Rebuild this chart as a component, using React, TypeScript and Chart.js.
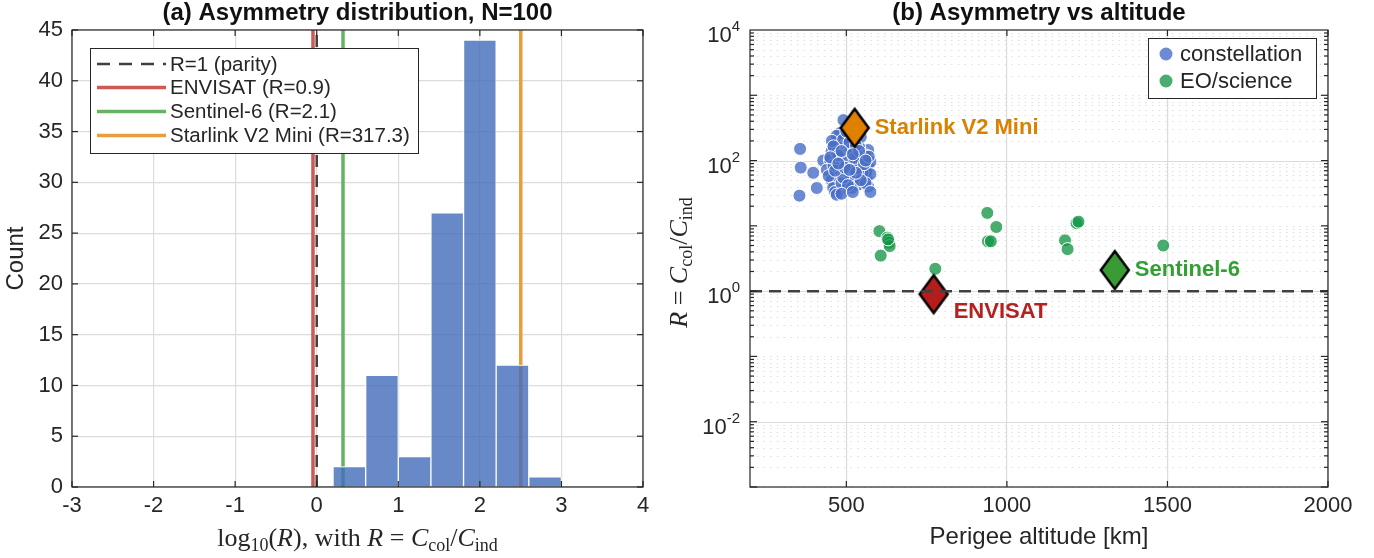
import React, { useEffect, useRef } from 'react';
import { Chart, registerables } from 'chart.js';
Chart.register(...registerables);

const SANS = '"Liberation Sans", Arial, Helvetica, sans-serif';
const SERIF = '"Liberation Serif", "Times New Roman", serif';
const INK = '#262626';

// ---------- Panel (a): histogram of log10(R) ----------
const binCenters = [0.4, 0.8, 1.2, 1.6, 2.0, 2.4, 2.8];
const binCounts = [2, 11, 3, 27, 44, 12, 1];
const refLabels = ['R=1 (parity)', 'ENVISAT (R=0.9)', 'Sentinel-6 (R=2.1)', 'Starlink V2 Mini (R=317.3)'];
const refRatios = [1, 0.9, 2.1, 317.3];
const xTicksA = [-3, -2, -1, 0, 1, 2, 3, 4];
const yTicksA = [0, 5, 10, 15, 20, 25, 30, 35, 40, 45];
const titleA = '(a) Asymmetry distribution, N=100';
const yLabelA = 'Count';

// ---------- Panel (b): asymmetry vs altitude ----------
const constAlt = [356, 358, 354, 397, 408, 428, 491, 480, 465, 454,
  480, 506, 532, 543, 568, 449, 475, 522, 543, 568,
  439, 470, 496, 532, 563, 454, 511, 568, 537, 459,
  480, 465, 485, 517, 501, 470, 553, 563, 501, 527,
  470, 455, 490, 515, 540, 560, 575, 550, 575, 560,
  575, 535, 520, 480, 460, 445, 490, 505, 470, 485,
  520, 545, 510, 545, 500, 530, 460, 475, 500, 525,
  555, 465, 495, 530, 570, 450, 485, 540, 510, 560,
  475, 520];
const constR = [151, 78, 29, 65, 38, 100, 417, 263, 184, 138,
  156, 174, 184, 138, 145, 102, 96, 102, 85, 79,
  72, 68, 72, 60, 56, 50, 51, 40, 43, 38,
  35, 33, 45, 38, 123, 130, 109, 68, 85, 75,
  240, 200, 210, 150, 160, 120, 95, 65, 62, 45,
  33, 120, 88, 110, 85, 58, 55, 42, 30, 31,
  33, 50, 190, 230, 280, 170, 165, 120, 95, 110,
  88, 70, 78, 65, 115, 112, 140, 140, 72, 100,
  90, 125];
const eoAlt = [603, 607, 628, 632, 635, 777, 939, 967, 941, 950, 1181, 1189, 1217, 1223, 1487, 630];
const eoR = [8.3, 3.5, 6.6, 5.5, 4.9, 2.2, 15.8, 9.6, 5.8, 5.8, 6.0, 4.4, 11, 11.6, 5.0, 6.2];
const hlNames = ['Starlink V2 Mini', 'ENVISAT', 'Sentinel-6'];
const hlAlt = [526, 772, 1336];
const hlR = [317.3, 0.9, 2.1];
const groupLabels = ['constellation', 'EO/science'];
const xTicksB = [500, 1000, 1500, 2000];
const yDecadesB = [-2, 0, 2, 4];
const titleB = '(b) Asymmetry vs altitude';
const xLabelB = 'Perigee altitude [km]';

// ---------- styles ----------
const refColors = ['rgb(64,64,64)', 'rgb(205,88,84)', 'rgb(100,180,100)', 'rgb(230,158,62)'];
const barFill = 'rgba(66,107,186,0.8)';
const constFill = 'rgba(72,110,200,0.8)';
const eoFill = 'rgba(20,150,70,0.78)';
const hlFill = ['#E08000', '#B51C1C', '#3A9B35'];
const hlText = ['#D98200', '#B52020', '#33A033'];
const hlOffset = [[20, 0], [20, 18], [20, 0]];
const gridColor = 'rgb(220,220,220)';

type Seg = { t: string; it?: boolean; sub?: boolean };

function drawMath(ctx: CanvasRenderingContext2D, segs: Seg[], cx: number, cy: number, size: number, rot: boolean) {
  ctx.save();
  ctx.translate(cx, cy);
  if (rot) ctx.rotate(-Math.PI / 2);
  const fontFor = (s: Seg) => `${s.it ? 'italic ' : ''}${s.sub ? Math.round(size * 0.7) : size}px ${SERIF}`;
  let w = 0;
  for (const s of segs) { ctx.font = fontFor(s); w += ctx.measureText(s.t).width; }
  let x = -w / 2;
  ctx.textAlign = 'left';
  ctx.textBaseline = 'alphabetic';
  ctx.fillStyle = INK;
  const base = size * 0.33;
  for (const s of segs) {
    ctx.font = fontFor(s);
    ctx.fillText(s.t, x, s.sub ? base + size * 0.2 : base);
    x += ctx.measureText(s.t).width;
  }
  ctx.restore();
}

function txt(ctx: CanvasRenderingContext2D, s: string, x: number, y: number, font: string, color: string,
  align: CanvasTextAlign = 'center', rot = false) {
  ctx.save();
  ctx.translate(x, y);
  if (rot) ctx.rotate(-Math.PI / 2);
  ctx.font = font;
  ctx.fillStyle = color;
  ctx.textAlign = align;
  ctx.textBaseline = 'middle';
  ctx.fillText(s, 0, 0);
  ctx.restore();
}

function diamond(fill: string) {
  const c = document.createElement('canvas');
  c.width = 34; c.height = 44;
  const g = c.getContext('2d')!;
  g.beginPath();
  g.moveTo(17, 3); g.lineTo(31, 22); g.lineTo(17, 41); g.lineTo(3, 22); g.closePath();
  g.fillStyle = fill; g.fill();
  g.lineWidth = 2.5; g.strokeStyle = '#000'; g.lineJoin = 'miter'; g.stroke();
  return c;
}

function line(ctx: CanvasRenderingContext2D, x1: number, y1: number, x2: number, y2: number) {
  ctx.beginPath(); ctx.moveTo(x1, y1); ctx.lineTo(x2, y2); ctx.stroke();
}

const tickFont = { family: SANS, size: 22 };

function configA(): any {
  const decor = {
    id: 'decorA',
    afterDraw(chart: any) {
      const { ctx, chartArea: ca, scales } = chart;
      const x = scales.x, y = scales.y;
      ctx.save();
      ctx.strokeStyle = INK; ctx.lineWidth = 1.2;
      ctx.strokeRect(ca.left, ca.top, ca.right - ca.left, ca.bottom - ca.top);
      for (const v of xTicksA) {
        const px = x.getPixelForValue(v);
        line(ctx, px, ca.bottom, px, ca.bottom - 6);
        line(ctx, px, ca.top, px, ca.top + 6);
      }
      for (const v of yTicksA) {
        const py = y.getPixelForValue(v);
        line(ctx, ca.left, py, ca.left + 6, py);
        line(ctx, ca.right, py, ca.right - 6, py);
      }
      // legend
      const bx = 90, by = 48, bw = 328, bh = 105;
      ctx.fillStyle = '#fff'; ctx.fillRect(bx, by, bw, bh);
      ctx.strokeStyle = INK; ctx.lineWidth = 1; ctx.strokeRect(bx + 0.5, by + 0.5, bw, bh);
      const rows = [64, 87.5, 111.5, 135.5];
      refLabels.forEach((lab, i) => {
        ctx.strokeStyle = refColors[i];
        ctx.lineWidth = i === 0 ? 2.5 : 3.5;
        ctx.setLineDash(i === 0 ? [13, 9] : []);
        line(ctx, 97, rows[i], 166, rows[i]);
        ctx.setLineDash([]);
        txt(ctx, lab, 170, rows[i] + 1, `20.5px ${SANS}`, INK, 'left');
      });
      // titles and labels
      const cx = (ca.left + ca.right) / 2;
      txt(ctx, titleA, cx, 13, `bold 24px ${SANS}`, '#111', 'center');
      txt(ctx, yLabelA, 16, (ca.top + ca.bottom) / 2, `24px ${SANS}`, INK, 'center', true);
      drawMath(ctx, [{ t: 'log' }, { t: '10', sub: true }, { t: '(' }, { t: 'R', it: true }, { t: '), with ' },
        { t: 'R', it: true }, { t: ' = ' }, { t: 'C', it: true }, { t: 'col', sub: true }, { t: '/' },
        { t: 'C', it: true }, { t: 'ind', sub: true }], cx, 537, 26, false);
      ctx.restore();
    },
  };
  return {
    type: 'bar',
    data: {
      datasets: [
        {
          type: 'bar', label: 'histogram',
          data: binCenters.map((c, i) => ({ x: c, y: binCounts[i] })),
          backgroundColor: barFill, borderColor: '#ffffff', borderWidth: 1,
          barPercentage: 1, categoryPercentage: 1, order: 0,
        },
        ...refRatios.map((r, i) => ({
          type: 'line', label: refLabels[i],
          data: [{ x: Math.log10(r), y: 0 }, { x: Math.log10(r), y: 45 }],
          borderColor: refColors[i], borderWidth: i === 0 ? 2.5 : 3.5,
          borderDash: i === 0 ? [12, 8] : [], pointRadius: 0, order: 1,
        })),
      ],
    },
    options: {
      animation: false, responsive: false, devicePixelRatio: 1, events: [],
      layout: { padding: { top: 30, right: 17, left: 0, bottom: 0 } },
      plugins: { legend: { display: false }, tooltip: { enabled: false } },
      scales: {
        x: {
          type: 'linear', min: -3, max: 4, offset: false,
          afterBuildTicks: (s: any) => { s.ticks = xTicksA.map((v) => ({ value: v })); },
          ticks: { font: tickFont, color: INK, padding: 6, maxRotation: 0, autoSkip: false, callback: (v: any) => String(v) },
          grid: { color: gridColor, lineWidth: 1.2, drawTicks: false, offset: false },
          border: { display: false },
          afterFit: (s: any) => { s.height = 71; },
        },
        y: {
          type: 'linear', min: 0, max: 45,
          afterBuildTicks: (s: any) => { s.ticks = yTicksA.map((v) => ({ value: v })); },
          ticks: { font: tickFont, color: INK, padding: 9, autoSkip: false },
          grid: { color: gridColor, lineWidth: 1.2, drawTicks: false },
          border: { display: false },
          afterFit: (s: any) => { s.width = 72; },
        },
      },
    },
    plugins: [decor],
  };
}

function configB(): any {
  const decor = {
    id: 'decorB',
    beforeDatasetsDraw(chart: any) {
      const { ctx, chartArea: ca, scales } = chart;
      const y = scales.y;
      ctx.save();
      for (let k = -3; k <= 3; k++) {
        for (let m = 1; m <= 9; m++) {
          const v = m * Math.pow(10, k);
          const py = Math.round(y.getPixelForValue(v)) + 0.5;
          if (m === 1 && k % 2 === 0) {
            ctx.strokeStyle = gridColor; ctx.lineWidth = 1.2; ctx.setLineDash([]);
          } else {
            ctx.strokeStyle = 'rgb(224,224,224)'; ctx.lineWidth = 1; ctx.setLineDash([1.6, 5.1]);
          }
          line(ctx, ca.left, py, ca.right, py);
        }
      }
      ctx.setLineDash([]);
      ctx.restore();
    },
    afterDraw(chart: any) {
      const { ctx, chartArea: ca, scales } = chart;
      const x = scales.x, y = scales.y;
      ctx.save();
      ctx.strokeStyle = INK; ctx.lineWidth = 1.2;
      ctx.strokeRect(ca.left, ca.top, ca.right - ca.left, ca.bottom - ca.top);
      for (const v of xTicksB) {
        const px = x.getPixelForValue(v);
        line(ctx, px, ca.bottom, px, ca.bottom - 6);
        line(ctx, px, ca.top, px, ca.top + 6);
      }
      for (let k = -3; k <= 3; k++) {
        for (let m = 1; m <= 9; m++) {
          const py = y.getPixelForValue(m * Math.pow(10, k));
          const len = m === 1 ? 7 : 4;
          line(ctx, ca.left, py, ca.left + len, py);
          line(ctx, ca.right, py, ca.right - len, py);
        }
      }
      // y tick labels with superscripts
      for (const d of yDecadesB) {
        const py = y.getPixelForValue(Math.pow(10, d));
        const exp = String(d);
        ctx.font = `15px ${SANS}`;
        const ew = ctx.measureText(exp).width;
        const right = ca.left - 10;
        txt(ctx, exp, right, py - 3, `15px ${SANS}`, INK, 'right');
        txt(ctx, '10', right - ew, py + 6, `22px ${SANS}`, INK, 'right');
      }
      // highlight labels
      hlNames.forEach((n, i) => {
        const px = x.getPixelForValue(hlAlt[i]) + hlOffset[i][0];
        const py = y.getPixelForValue(hlR[i]) + hlOffset[i][1];
        txt(ctx, n, px, py, `bold 22px ${SANS}`, hlText[i], 'left');
      });
      // legend
      const bx = 488, by = 38, bw = 168, bh = 60;
      ctx.fillStyle = '#fff'; ctx.fillRect(bx, by, bw, bh);
      ctx.strokeStyle = INK; ctx.lineWidth = 1; ctx.strokeRect(bx + 0.5, by + 0.5, bw, bh);
      const rows = [54, 81];
      const fills = [constFill, eoFill];
      groupLabels.forEach((lab, i) => {
        ctx.beginPath(); ctx.arc(506, rows[i], 6.5, 0, Math.PI * 2);
        ctx.fillStyle = fills[i]; ctx.fill();
        txt(ctx, lab, 520, rows[i] + 1, `22px ${SANS}`, INK, 'left');
      });
      const cx = (ca.left + ca.right) / 2;
      txt(ctx, titleB, cx, 13, `bold 24px ${SANS}`, '#111', 'center');
      txt(ctx, xLabelB, cx, 537, `24px ${SANS}`, INK, 'center');
      drawMath(ctx, [{ t: 'R', it: true }, { t: ' = ' }, { t: 'C', it: true }, { t: 'col', sub: true }, { t: '/' },
        { t: 'C', it: true }, { t: 'ind', sub: true }], 18, (ca.top + ca.bottom) / 2 + 4, 26, true);
      ctx.restore();
    },
  };
  return {
    type: 'scatter',
    data: {
      datasets: [
        {
          type: 'line', label: 'R=1',
          data: [{ x: 200, y: 1 }, { x: 2000, y: 1 }],
          borderColor: 'rgb(64,64,64)', borderWidth: 2.5, borderDash: [12, 7], pointRadius: 0, order: 0,
        },
        ...hlNames.map((n, i) => ({
          label: n, data: [{ x: hlAlt[i], y: hlR[i] }],
          pointStyle: diamond(hlFill[i]), pointRadius: 14, order: 1,
        })),
        {
          label: groupLabels[1], data: eoAlt.map((a, i) => ({ x: a, y: eoR[i] })),
          backgroundColor: eoFill, borderColor: '#ffffff', borderWidth: 1, pointRadius: 6.5, order: 2,
        },
        {
          label: groupLabels[0], data: constAlt.map((a, i) => ({ x: a, y: constR[i] })),
          backgroundColor: constFill, borderColor: '#ffffff', borderWidth: 1, pointRadius: 6.5, order: 3,
        },
      ],
    },
    options: {
      animation: false, responsive: false, devicePixelRatio: 1, events: [],
      layout: { padding: { top: 30, right: 46, left: 0, bottom: 0 } },
      plugins: { legend: { display: false }, tooltip: { enabled: false } },
      scales: {
        x: {
          type: 'linear', min: 200, max: 2000,
          afterBuildTicks: (s: any) => { s.ticks = xTicksB.map((v) => ({ value: v })); },
          ticks: { font: tickFont, color: INK, padding: 6, maxRotation: 0, autoSkip: false, callback: (v: any) => String(v) },
          grid: { color: gridColor, lineWidth: 1.2, drawTicks: false },
          border: { display: false },
          afterFit: (s: any) => { s.height = 71; },
        },
        y: {
          type: 'logarithmic', min: 1e-3, max: 1e4,
          ticks: { display: false },
          grid: { display: false },
          border: { display: false },
          afterFit: (s: any) => { s.width = 90; },
        },
      },
    },
    plugins: [decor],
  };
}

export default function App() {
  const refA = useRef<HTMLCanvasElement>(null);
  const refB = useRef<HTMLCanvasElement>(null);
  useEffect(() => {
    const a = new Chart(refA.current!, configA());
    const b = new Chart(refB.current!, configB());
    return () => { a.destroy(); b.destroy(); };
  }, []);
  return (
    <div style={{ position: 'absolute', left: 0, top: 0, width: 1374, height: 558, background: '#fff' }}>
      <canvas ref={refA} width={660} height={558} style={{ position: 'absolute', left: 0, top: 0, width: 660, height: 558 }} />
      <canvas ref={refB} width={714} height={558} style={{ position: 'absolute', left: 660, top: 0, width: 714, height: 558 }} />
    </div>
  );
}
